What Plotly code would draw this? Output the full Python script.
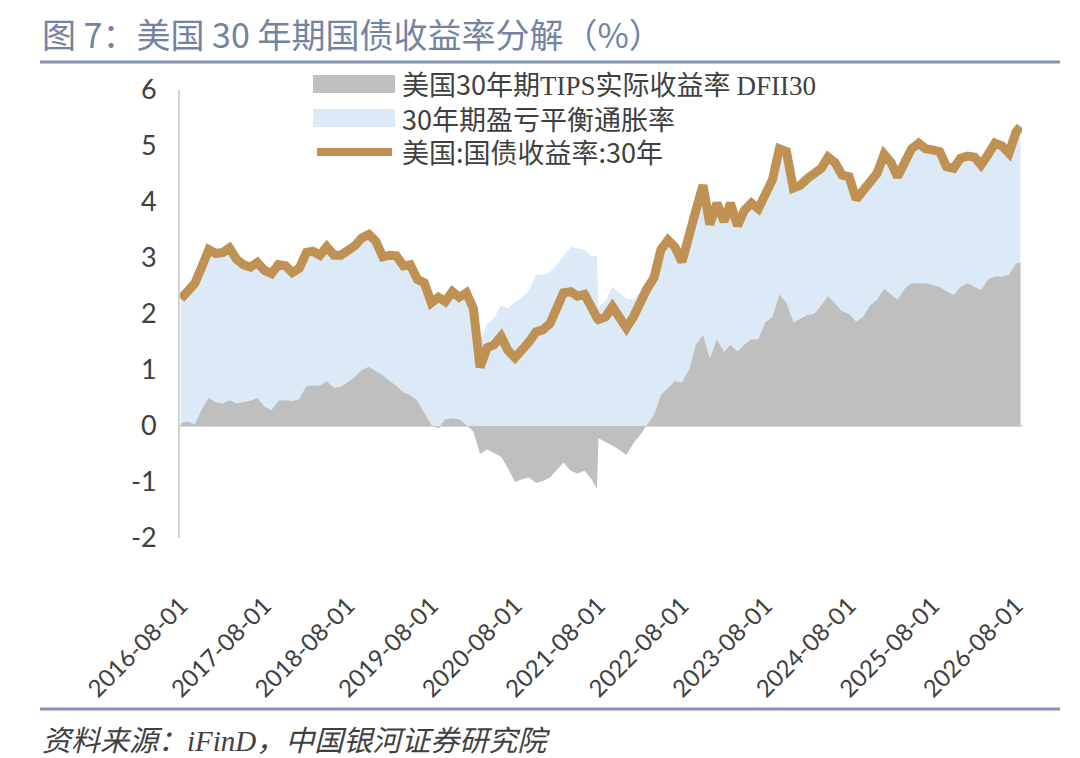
import pandas as pd
import plotly.graph_objects as go

# monthly readings, plus two extra points around the data gap in Jul-2021 and the last day
months = [d.strftime("%Y-%m-%d") for d in pd.date_range("2016-08-01", "2026-08-01", freq="MS")]
dates = months[:60] + ["2021-07-25", "2021-07-29"] + months[60:] + ["2026-08-20"]

# 美国:国债收益率:30年 (%)
yield_30y = [
    2.27, 2.40, 2.55, 2.85, 3.15, 3.08, 3.10, 3.18, 2.98, 2.88,
    2.84, 2.92, 2.78, 2.72, 2.88, 2.86, 2.74, 2.82, 3.10, 3.12,
    3.05, 3.20, 3.05, 3.05, 3.14, 3.22, 3.36, 3.42, 3.30, 3.02,
    3.05, 3.04, 2.86, 2.88, 2.62, 2.56, 2.20, 2.30, 2.22, 2.40,
    2.30, 2.38, 2.10, 1.05, 1.40, 1.45, 1.60, 1.35, 1.22, 1.35,
    1.50, 1.68, 1.72, 1.83, 2.10, 2.38, 2.40, 2.32, 2.35, 2.08,
    1.92, 1.91,
    1.90, 1.95, 2.13, 1.95, 1.75, 1.95, 2.25, 2.45, 2.65, 3.15,
    3.32, 3.20, 2.93, 3.45, 3.85, 4.30, 3.60, 3.98, 3.65, 3.98,
    3.58, 3.85, 3.98, 3.88, 4.15, 4.40, 4.95, 4.90, 4.25, 4.30,
    4.42, 4.50, 4.60, 4.80, 4.70, 4.48, 4.45, 4.05, 4.20, 4.40,
    4.51, 4.85, 4.70, 4.45, 4.75, 4.95, 5.05, 4.95, 4.93, 4.90,
    4.63, 4.60, 4.78, 4.82, 4.80, 4.66, 4.85, 5.05, 5.00, 4.87,
    5.25,
    5.35,
]

# 美国30年期TIPS实际收益率 DFII30 (%)
tips_real = [
    0.05, 0.08, 0.03, 0.30, 0.50, 0.42, 0.40, 0.46, 0.40, 0.42,
    0.45, 0.50, 0.35, 0.28, 0.45, 0.46, 0.44, 0.48, 0.72, 0.72,
    0.72, 0.80, 0.68, 0.70, 0.78, 0.88, 1.00, 1.06, 0.98, 0.90,
    0.80, 0.72, 0.60, 0.55, 0.45, 0.25, 0.02, -0.04, 0.12, 0.14,
    0.12, 0.02, -0.10, -0.50, -0.42, -0.48, -0.55, -0.75, -1.00, -0.95,
    -0.92, -1.02, -0.98, -0.92, -0.78, -0.65, -0.80, -0.85, -0.80, -0.95,
    -1.12, None,
    -0.22, -0.28, -0.35, -0.43, -0.52, -0.31, -0.15, 0.02, 0.20, 0.55,
    0.68, 0.80, 0.78, 1.00, 1.45, 1.62, 1.20, 1.55, 1.32, 1.45,
    1.33, 1.45, 1.55, 1.55, 1.85, 1.95, 2.35, 2.20, 1.85, 1.92,
    1.98, 2.00, 2.15, 2.32, 2.18, 2.05, 2.00, 1.86, 1.95, 2.15,
    2.25, 2.45, 2.35, 2.25, 2.45, 2.55, 2.55, 2.55, 2.52, 2.48,
    2.40, 2.34, 2.48, 2.55, 2.48, 2.43, 2.62, 2.67, 2.67, 2.70,
    2.90,
    2.92,
]

tick_dates = [f"{y}-08-01" for y in range(2016, 2027)]
y_ticks = [-2, -1, 0, 1, 2, 3, 4, 5, 6]
y_tick_text = ["-2", "-1", "0", "1", "2", "3", "4", "5", "6"]

# breakeven = nominal - real; stacked on top of the positive part of the real yield
breakeven = [None if r is None else y - r for y, r in zip(yield_30y, tips_real)]
breakeven_top = [None if b is None else b + max(r, 0) for b, r in zip(breakeven, tips_real)]

GRAY = "#bfbfbf"
BLUE = "#dce9f6"
BROWN = "#bf9152"
TEXT = "#404040"
RULE = "#8492b0"
CJK = "Noto Sans CJK SC"

# the page body has an 8px margin, so the figure is drawn 8px smaller
OFF = 8
W, H = 1080 - OFF, 758 - OFF
# plot area in screen pixels, used to place the title, rules and legend
L, R, T, B = 180, 1022, 90, 538


def px(x):
    return (x - L) / (R - L)


def py(y):
    return (B - y) / (B - T)


fig = go.Figure()
fig.add_trace(go.Scatter(x=dates, y=breakeven_top, mode="lines", fill="tozeroy",
                         fillcolor=BLUE, line=dict(width=0, color=BLUE),
                         name="30年期盈亏平衡通胀率"))
fig.add_trace(go.Scatter(x=dates, y=tips_real, mode="lines", fill="tozeroy",
                         fillcolor=GRAY, line=dict(width=0, color=GRAY),
                         name="美国30年期TIPS实际收益率 DFII30"))
fig.add_trace(go.Scatter(x=dates, y=yield_30y, mode="lines", connectgaps=True,
                         line=dict(width=9, color=BROWN),
                         name="美国:国债收益率:30年"))

shapes = [
    # title and source rules
    dict(type="line", xref="paper", yref="paper", x0=px(40), x1=px(1060), y0=py(62), y1=py(62),
         line=dict(color=RULE, width=3)),
    dict(type="line", xref="paper", yref="paper", x0=px(40), x1=px(1060), y0=py(709), y1=py(709),
         line=dict(color=RULE, width=3)),
    # legend symbols
    dict(type="rect", xref="paper", yref="paper", x0=px(313), x1=px(395), y0=py(75), y1=py(93),
         fillcolor=GRAY, line=dict(width=0)),
    dict(type="rect", xref="paper", yref="paper", x0=px(313), x1=px(395), y0=py(109), y1=py(127),
         fillcolor=BLUE, line=dict(width=0)),
    dict(type="line", xref="paper", yref="paper", x0=px(317), x1=px(392), y0=py(152), y1=py(152),
         line=dict(color=BROWN, width=8)),
]

serif = "font-family:'Liberation Serif'"
legend_rows = [
    (84, f"美国30年期<span style=\"{serif}\">TIPS</span>实际收益率 <span style=\"{serif}\">DFII30</span>"),
    (118, "30年期盈亏平衡通胀率"),
    (152, "美国:国债收益率:30年"),
]
annotations = [
    dict(xref="paper", yref="paper", x=px(400), y=py(yy), text=t, showarrow=False,
         xanchor="left", yanchor="middle", font=dict(family=CJK, size=27, color=TEXT))
    for yy, t in legend_rows
]
annotations.append(dict(xref="paper", yref="paper", x=px(40), y=py(33),
                        text="图 7：美国 30 年期国债收益率分解（%）", showarrow=False,
                        xanchor="left", yanchor="middle",
                        font=dict(family=CJK, size=34, color="#7383a3")))
annotations.append(dict(xref="paper", yref="paper", x=px(40), y=py(738),
                        text=f"<i>资料来源：<span style=\"{serif}\">iFinD</span>，中国银河证券研究院</i>",
                        showarrow=False, xanchor="left", yanchor="middle",
                        font=dict(family=CJK, size=29, color=TEXT)))

fig.update_layout(
    width=W, height=H,
    margin=dict(l=L - OFF, r=W - (R - OFF), t=T - OFF, b=H - (B - OFF)),
    paper_bgcolor="white", plot_bgcolor="white",
    showlegend=False,
    shapes=shapes,
    annotations=annotations,
    font=dict(family="Lato, " + CJK, color=TEXT),
    xaxis=dict(
        type="date", range=["2016-07-28", "2026-08-27"],
        tickvals=tick_dates, ticktext=tick_dates, tickangle=-45,
        tickfont=dict(size=24, family="Lato", color=TEXT),
        showgrid=False, showline=False, zeroline=False, ticks="",
        ticklabelstandoff=48,
    ),
    yaxis=dict(
        range=[-2, 6], tickvals=y_ticks, ticktext=y_tick_text,
        tickfont=dict(size=27, family="Lato", color=TEXT),
        showgrid=False, showline=True, linecolor="#d4d4d4", linewidth=2,
        zeroline=True, zerolinecolor="#d4d4d4", zerolinewidth=2,
        ticks="", ticklabelstandoff=16, layer="above traces",
    ),
)

fig.write_html("out.html", config={"displayModeBar": False})
